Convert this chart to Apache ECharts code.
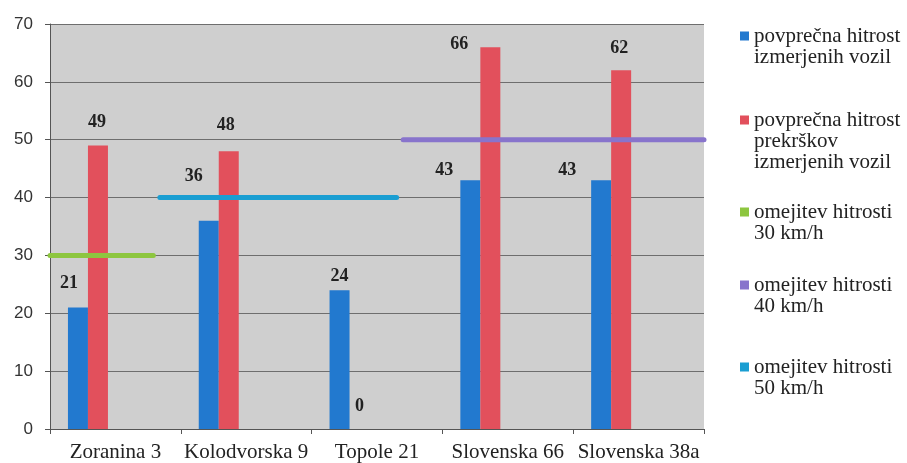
<!DOCTYPE html>
<html><head><meta charset="utf-8">
<script src="https://cdn.jsdelivr.net/npm/echarts@6/dist/echarts.min.js"></script>
<style>html,body{margin:0;padding:0;background:#fff}#c{width:907px;height:463px}</style>
</head><body><div id="c"></div>
<script>
// ---- data ----
const categories = ['Zoranina 3', 'Kolodvorska 9', 'Topole 21', 'Slovenska 66', 'Slovenska 38a'];
const avgSpeed = [21, 36, 24, 43, 43];
const avgViolationSpeed = [49, 48, 0, 66, 62];
const yTicks = [0, 10, 20, 30, 40, 50, 60, 70];
// limit lines: [categoryPosition, value] (position in category units, 0..5)
const limit30 = [[0, 30], [0.79, 30]];
const limit40 = [[2.70, 50], [5.0, 50]];
const limit50 = [[0.84, 40], [2.65, 40]];
const seriesNames = [
  'povprečna hitrost\nizmerjenih vozil',
  'povprečna hitrost\nprekrškov\nizmerjenih vozil',
  'omejitev hitrosti\n30 km/h',
  'omejitev hitrosti\n40 km/h',
  'omejitev hitrosti\n50 km/h'
];

// ---- style (label offsets per bar, legend placement) ----
const blueLabelOffsets = [[-9, -10], [-15, -30], [0, 0], [-26, 4], [-34, 4]];
const redLabelOffsets = [[-1, -9], [-3, -12], [0, -9], [-31, 11], [-2, -8]];
const colors = ['#2279cf', '#e2505c', '#8dc63f', '#8874cc', '#1a9ed2'];
const legendFirstLine = [36, 120, 212, 285, 367];
const LH = 21;

const labelFont = {fontFamily: 'Liberation Serif', fontSize: 18, fontWeight: 'bold', color: '#222'};

function barData(vals, offs) {
  return vals.map((v, i) => ({value: v, label: {offset: offs[i]}}));
}

const legendText = {fontFamily: 'Liberation Serif', fontSize: 21, lineHeight: LH, color: '#222'};
const legends = seriesNames.map((n, i) => {
  const lines = n.split('\n').length;
  const h = lines * LH;
  const sqTop = LH / 2 - 4.5;
  // square icon aligned with the first text line; tiny invisible points stretch the icon box to the full item height
  const icon = 'path://M0,0h0.01v0.01h-0.01z M0,' + sqTop + 'h9v9h-9z M0,' + h + 'h0.01v-0.01h-0.01z';
  return {
    orient: 'vertical',
    left: 740,
    top: legendFirstLine[i] - LH / 2,
    padding: 0,
    itemWidth: 9,
    itemHeight: h,
    icon: icon,
    selectedMode: false,
    itemStyle: {borderWidth: 0},
    data: [{name: n}],
    textStyle: legendText
  };
});

const chart = echarts.init(document.getElementById('c'), null, {renderer: 'canvas'});
chart.setOption({
  animation: false,
  legend: legends,
  grid: {left: 50, right: 203, top: 24, bottom: 34, show: true, backgroundColor: '#cfcfcf', borderWidth: 0},
  xAxis: [{
    type: 'category',
    data: categories,
    axisLine: {lineStyle: {color: '#555', width: 1}},
    axisTick: {show: true, length: 5, lineStyle: {color: '#555'}},
    axisLabel: {fontFamily: 'Liberation Serif', fontSize: 21, color: '#222', margin: 13, interval: 0}
  }, {
    type: 'value', min: 0, max: 5, show: false
  }],
  yAxis: {
    type: 'value', min: yTicks[0], max: yTicks[yTicks.length - 1], interval: yTicks[1] - yTicks[0],
    axisLine: {show: true, lineStyle: {color: '#555', width: 1}},
    axisTick: {show: true, length: 5, lineStyle: {color: '#555'}},
    axisLabel: {fontFamily: 'Liberation Sans', fontSize: 17, color: '#333', margin: 17},
    splitLine: {lineStyle: {color: '#6e6e6e', width: 1}}
  },
  series: [
    {name: seriesNames[0], type: 'bar', xAxisIndex: 0, barWidth: 20, barGap: '0%',
     itemStyle: {color: colors[0]}, data: barData(avgSpeed, blueLabelOffsets),
     label: Object.assign({show: true, position: 'top', distance: 5}, labelFont)},
    {name: seriesNames[1], type: 'bar', xAxisIndex: 0, barWidth: 20, barGap: '0%',
     itemStyle: {color: colors[1]}, data: barData(avgViolationSpeed, redLabelOffsets),
     label: Object.assign({show: true, position: 'top', distance: 5}, labelFont)},
    {type: 'bar', xAxisIndex: 0, barWidth: 18.3, barGap: '0%', data: []},
    {type: 'bar', xAxisIndex: 0, barWidth: 18.3, barGap: '0%', data: []},
    {type: 'bar', xAxisIndex: 0, barWidth: 18.3, barGap: '0%', data: []},
    {name: seriesNames[2], type: 'line', xAxisIndex: 1, data: limit30, symbol: 'none',
     itemStyle: {color: colors[2]}, lineStyle: {color: colors[2], width: 5, cap: 'round'}},
    {name: seriesNames[3], type: 'line', xAxisIndex: 1, data: limit40, symbol: 'none',
     itemStyle: {color: colors[3]}, lineStyle: {color: colors[3], width: 5, cap: 'round'}},
    {name: seriesNames[4], type: 'line', xAxisIndex: 1, data: limit50, symbol: 'none',
     itemStyle: {color: colors[4]}, lineStyle: {color: colors[4], width: 5, cap: 'round'}}
  ]
});
</script></body></html>
